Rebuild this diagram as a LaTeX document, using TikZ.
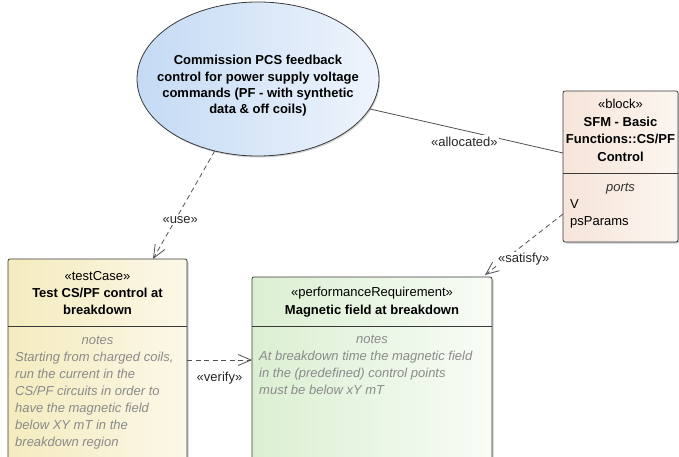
\documentclass[tikz,border=0pt]{standalone}
\usepackage{fontspec}
\setmainfont{Liberation Sans}
\usetikzlibrary{arrows.meta,shapes.geometric,shadows}

\definecolor{ucL}{HTML}{C4DAF4}
\definecolor{ucR}{HTML}{EEF4FC}
\definecolor{blkL}{HTML}{F6E5D9}
\definecolor{blkR}{HTML}{FCF5F0}
\definecolor{tcL}{HTML}{F4EBBE}
\definecolor{tcR}{HTML}{FBF8E8}
\definecolor{rqL}{HTML}{DBEFD2}
\definecolor{rqR}{HTML}{F8FCF6}
\definecolor{edge}{HTML}{3A3A3A}
\definecolor{wire}{HTML}{505050}
\definecolor{notegray}{HTML}{8A8A8A}

\begin{document}
\begin{tikzpicture}[x=1pt,y=-1pt,
  txt/.style={inner sep=0pt, font=\fontsize{13}{17}\selectfont, text=black},
  stereo/.style={txt, anchor=base},
  title/.style={txt, anchor=base, font=\fontsize{13}{17}\selectfont\bfseries},
  notehead/.style={txt, anchor=base, text=notegray, font=\fontsize{13}{17}\selectfont\itshape},
  note/.style={txt, anchor=base west, text=notegray, font=\fontsize{13}{17}\selectfont\itshape},
  port/.style={txt, anchor=base west},
  element/.style={draw=edge, line width=0.8pt, rounded corners=2pt, anchor=north west,
    inner sep=0pt, outer sep=0pt,
    drop shadow={shadow xshift=1.5pt, shadow yshift=-1.5pt, fill=black!35, opacity=0.6}},
  usecase/.style={ellipse, draw=edge, line width=0.8pt, inner sep=0pt, outer sep=0pt,
    left color=ucL, right color=ucR,
    drop shadow={shadow xshift=1pt, shadow yshift=-1.5pt, fill=black!35, opacity=0.5}},
  divider/.style={draw=edge, line width=0.8pt},
  rel/.style={draw=wire, line width=0.8pt},
  dep/.style={rel, dash pattern=on 5pt off 3.5pt,
    -{Straight Barb[length=13pt, width=11pt, line width=0.8pt]}},
  lbl/.style={txt, text=black!85, fill=white, inner sep=1.5pt}
]
\useasboundingbox (0,0) rectangle (679,457);
\clip (0,0) rectangle (679,457);

% use case
\node[usecase, minimum width=242pt, minimum height=154pt] (uc) at (258,79) {};
\node[title] at (258,65) {Commission PCS feedback};
\node[title] at (258,81.5) {control for power supply voltage};
\node[title] at (258,97.5) {commands (PF - with synthetic};
\node[title] at (258,113.5) {data \& off coils)};

% block
\node[element, left color=blkL, right color=blkR,
  minimum width=115pt, minimum height=151pt] (blk) at (563,91) {};
\draw[divider] (blk.west |- 0,173) -- (blk.east |- 0,173);
\node[stereo] at (620.5,108.3) {«block»};
\node[title] at (620.5,126.7) {SFM - Basic};
\node[title] at (620.5,144) {Functions::CS/PF};
\node[title] at (620.5,161.7) {Control};
\node[notehead, text=black!80] at (620.5,191.7) {ports};
\node[port] at (570,208.3) {V};
\node[port] at (570,225.7) {psParams};

% test case
\node[element, left color=tcL, right color=tcR,
  minimum width=179pt, minimum height=220pt] (tc) at (8,259) {};
\draw[divider] (tc.west |- 0,326) -- (tc.east |- 0,326);
\node[stereo] at (97.5,280) {«testCase»};
\node[title] at (97.5,297.3) {Test CS/PF control at};
\node[title] at (97.5,314.3) {breakdown};
\node[notehead] at (97.5,344) {notes};
\node[note] at (15,361.7) {Starting from charged coils,};
\node[note] at (15,378.7) {run the current in the};
\node[note] at (15,395.7) {CS/PF circuits in order to};
\node[note] at (15,412.7) {have the magnetic field};
\node[note] at (15,429.7) {below XY mT in the};
\node[note] at (15,446.7) {breakdown region};

% requirement
\node[element, left color=rqL, right color=rqR,
  minimum width=240pt, minimum height=200pt] (rq) at (252,277) {};
\draw[divider] (rq.west |- 0,326) -- (rq.east |- 0,326);
\node[stereo] at (372,296.7) {«performanceRequirement»};
\node[title] at (372,314.3) {Magnetic field at breakdown};
\node[notehead] at (372,343.3) {notes};
\node[note] at (259,360.7) {At breakdown time the magnetic field};
\node[note] at (259,377.5) {in the (predefined) control points};
\node[note] at (259,394.3) {must be below xY mT};

% relationships
\draw[rel] (uc.-15) -- node[lbl, pos=0.49, yshift=-11pt] {«allocated»} ([yshift=13.5pt]blk.west);
\draw[dep] (uc.239) -- node[lbl, pos=0.64, xshift=5pt] {«use»} ([xshift=55.5pt]tc.north);
\draw[dep] ([yshift=-47.5pt]blk.west) -- ([xshift=-7pt, yshift=2pt]rq.north east)
  node[lbl, pos=0.87, anchor=west, xshift=1pt, yshift=8pt] {«satisfy»};
\draw[dep] ([yshift=9pt]tc.east) -- ([yshift=17pt]rq.west)
  node[lbl, midway, below=10pt] {«verify»};
\end{tikzpicture}
\end{document}
